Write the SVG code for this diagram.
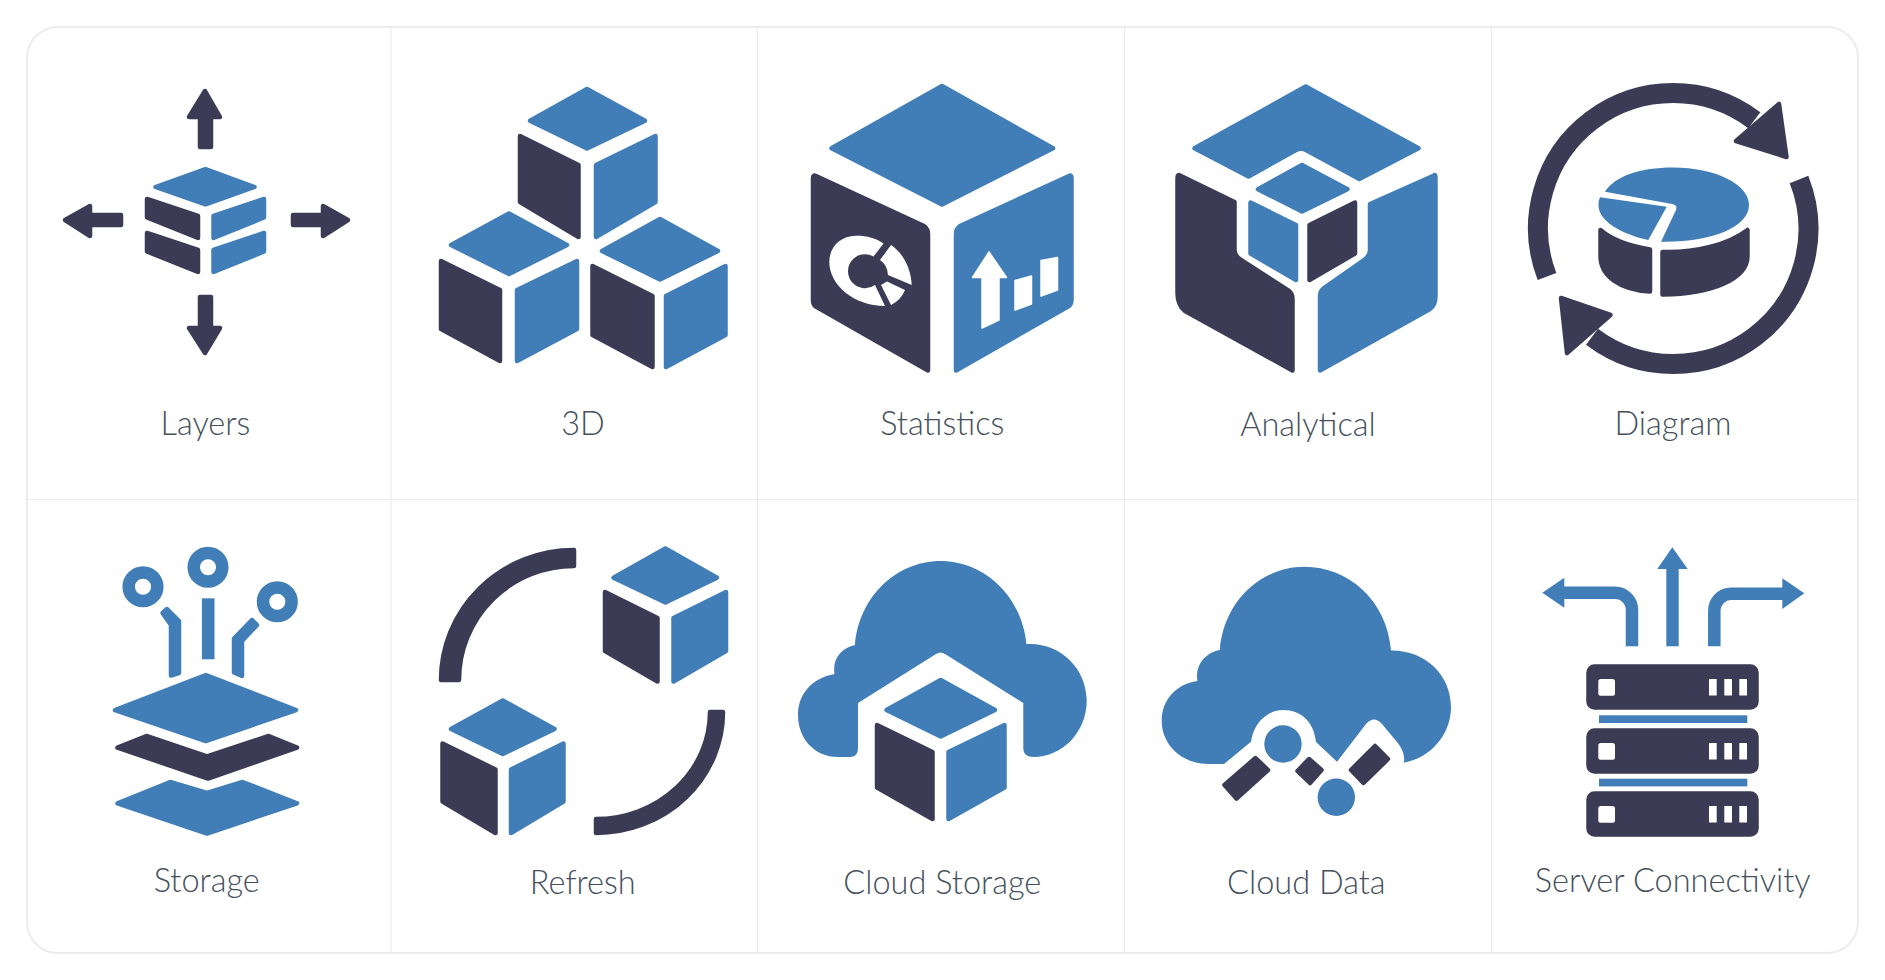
<svg xmlns="http://www.w3.org/2000/svg" width="1885" height="980" viewBox="0 0 1885 980">
<style>
.d{fill:#3b3b55;stroke:#3b3b55;stroke-width:4.5;stroke-linejoin:round}
.b{fill:#417eb8;stroke:#417eb8;stroke-width:4.5;stroke-linejoin:round}
.w{fill:#fff;stroke:#fff;stroke-width:1.5;stroke-linejoin:round}
.bf{fill:#417eb8}
.wf{fill:#fff}
.ring{fill:none;stroke:#417eb8;stroke-width:12.5}
.arc{fill:none;stroke:#3b3b55;stroke-width:20}
.ln{stroke:#ebebeb;stroke-width:1.2;fill:none}
.lb{fill:none;stroke:#417eb8;stroke-width:12.5}
text{font-family:"Lato","Liberation Sans",sans-serif;font-weight:300;font-size:32.5px;fill:#45505c;text-anchor:middle}
</style>
<rect width="1885" height="980" fill="#fff"/>
<g id="frame">
<rect x="27" y="27" width="1831" height="926" rx="31" fill="none" stroke="#ececec" stroke-width="2"/>
<path class="ln" d="M391,27V953M757.5,27V953M1124.5,27V953M1491.5,27V953M27,499.5H1858"/>
</g>

<g id="layers">
<polygon class="d" points="205,91 220,117 211,117 211,147 200,147 200,117 189,117" />
<polygon class="d" points="205,353 220,328 211,328 211,297 200,297 200,328 189,328"/>
<polygon class="d" points="65,220 90,206 90,215 121,215 121,225 90,225 90,236"/>
<polygon class="d" points="348,220 323,206 323,215 293,215 293,225 323,225 323,236"/>
<polygon class="b" points="205.5,169 254.5,187 205.5,204.5 155.5,187"/>
<polygon class="d" points="147,199 198,216 198,238 147,217.5"/>
<polygon class="d" points="147,233 198,250 198,272 147,251.5"/>
<polygon class="b" points="264,199 213.5,216 213.5,238 264,217.5"/>
<polygon class="b" points="264,233 213.5,250 213.5,272 264,251.5"/>
<text x="205.5" y="435">Layers</text>
</g>

<g id="cube3d">
<polygon class="b" points="587,89 645,120.7 587,148.5 530,120.7"/>
<polygon class="d" points="520,136 578.5,165 578.5,237 520,202"/>
<polygon class="b" points="655.5,136 596,165 596,237 655.5,202"/>
<polygon class="b" points="509,213.5 567,245 509,274 451,245"/>
<polygon class="d" points="441,261 500,290 500,361 441,329"/>
<polygon class="b" points="577,261 517,290 517,361 577,329"/>
<polygon class="b" points="660,219 718,251 660,279.5 602,251"/>
<polygon class="d" points="592.5,266 652.5,296 652.5,367 592.5,335"/>
<polygon class="b" points="725.5,266 666,296 666,367 725.5,335"/>
<text x="583" y="435">3D</text>
</g>

<g id="statistics">
<polygon class="b" points="942,86 1053,148.3 942,204.5 831.5,148.3"/>
<path class="d" d="M816,176 L924,226 Q928,229 928,234 V370.5 L815,306 Q813,304 813,300 V178 Q813,174.5 816,176Z"/>
<path class="b" d="M1069,176 L960,226 Q956,229 956,234 V370.5 L1069,306 Q1071.5,304 1071.5,300 V178 Q1071.5,174.5 1069,176Z"/>
<path class="wf" d="M883.5,243.5 C876,238 866,235.5 856,235.7 C840,236 829.3,247 829.3,262 C829.3,285 854,306 885,306 L875,285 A17,17 0 1 1 873.5,256.5Z"/>
<path class="wf" d="M891,245 C903,253 911,268 911.7,285 L888,275 A19,19 0 0 0 880,260Z"/>
<path class="wf" d="M881,285 L887,281.5 L905,290 Q901,300 891,305Z"/>
<polygon class="w" points="989,252 1006.5,277.5 999,277.5 999,320 982,328 982,277.5 972.5,277.5"/>
<polygon class="w" points="1015,280.5 1031.5,276 1031.5,304 1015,310"/>
<polygon class="w" points="1041,260.5 1057.5,257.5 1057.5,290 1041,296"/>
<text x="942.3" y="435">Statistics</text>
</g>

<g id="analytical">
<path class="b" d="M1305.7,86.5 L1418.5,148.3 L1359.3,179 L1306,150 Q1301.3,147.5 1296,150 L1248.6,176.5 L1194.5,148.3Z"/>
<polygon class="b" points="1302,165 1347.5,189.3 1302,211.5 1258,189.3"/>
<polygon class="b" points="1250.5,202.5 1296,225 1296,280 1250.5,253.5"/>
<polygon class="d" points="1355,202.5 1309.5,225 1309.5,280 1355,253.5"/>
<path class="d" d="M1180,175.5 L1234.5,202 V250 Q1234.5,256 1241,260 L1289,291 Q1292.5,294 1292.5,299 V370.5 L1185,311 Q1177.5,305 1177.5,293 V178 Q1177.5,174 1180,175.5Z"/>
<path class="b" d="M1434,175.5 L1370,204 V250 Q1370,256 1364,260 L1324,288 Q1320,291 1320,296 V370.5 L1430,309 Q1435.5,305 1435.5,296 V178 Q1435.5,174 1434,175.5Z"/>
<text x="1308" y="436">Analytical</text>
</g>

<g id="diagram">
<path class="arc" d="M1547,276.5 A135,135 0 0 1 1754.3,120.3"/>
<polygon class="d" points="1779,104 1786.5,157 1736,141" stroke-width="6"/>
<path class="arc" d="M1799,179.5 A135,135 0 0 1 1592,336.7"/>
<polygon class="d" points="1561,298 1610.5,315 1567,353" stroke-width="6"/>
<path class="bf" d="M1605,191.7 C1615,176 1640,167.5 1673,167.5 C1715,167.5 1749,184 1749,205 C1749,227 1712,242.5 1661,241.7 L1676,210 Q1678,205 1672,204Z"/>
<path class="bf" d="M1600,197.3 L1666.7,206.7 L1648.3,240 C1620,234 1598,220 1598.5,205 Q1598.5,200 1600,197.3Z"/>
<path class="d" d="M1600.5,230 C1612,240 1628,246 1650,249.5 V291.5 C1620,290 1600.5,276 1600.5,256Z"/>
<path class="d" d="M1662.5,252 C1695,253 1728,245 1747.5,230 V256 C1747.5,279 1712,294 1662.5,294.5Z"/>
<text x="1673" y="435">Diagram</text>
</g>

<g id="storage">
<circle class="ring" cx="143" cy="586.7" r="14.3"/>
<circle class="ring" cx="208" cy="567.3" r="14.3"/>
<circle class="ring" cx="277.3" cy="601.7" r="14.3"/>
<rect class="bf" x="201.9" y="598.3" width="12.6" height="61"/>
<path class="b" d="M162.5,613 L167,609 L179,621 V673 L171,675.5 V625Z" stroke-width="3.5"/>
<path class="b" d="M252,620 L257,625 L242,641 V676 L234,672.5 V638.5Z" stroke-width="3.5"/>
<polygon class="b" points="205.8,675 296,710 205.8,741 115,710"/>
<polygon class="d" points="117.5,747.7 146.4,736 207,756.5 268.7,736 297,747.7 208,778.5"/>
<polygon class="b" points="117.5,803.3 170.2,782 207,793 242.6,782 297,803.3 207,833.5"/>
<text x="206.7" y="892">Storage</text>
</g>

<g id="refresh">
<path class="d" d="M574,550 A133,130 0 0 0 441,680 L459,680 A115,114 0 0 1 574,566Z" stroke-width="4"/>
<path class="d" d="M723,712 A127,121 0 0 1 596,833 L596,819 A114,107 0 0 0 710,712Z" stroke-width="4"/>
<polygon class="b" points="665.4,548.5 717,577.7 665.4,602.5 613.5,577.7"/>
<polygon class="d" points="605,592 657.5,618 657.5,681.5 605,651"/>
<polygon class="b" points="726,592 673.5,618 673.5,681.5 726,651"/>
<polygon class="b" points="502.8,700.5 554.5,729 502.8,754 451,729"/>
<polygon class="d" points="442.5,743.5 495.5,769.5 495.5,833 442.5,801.5"/>
<polygon class="b" points="563.5,743.5 511,769.5 511,833 563.5,801.5"/>
<text x="582.8" y="894">Refresh</text>
</g>

<g id="cloud-storage">
<path class="bf" d="M855,645 C859,597 896,561 940.7,561 C985,561 1022,597 1026.4,644 C1060,642 1086.7,668 1086.7,701 C1086.7,732 1062,757 1034,757 C1027,757 1023.3,754 1023.3,748 L1023.3,703 L945,654 Q940.7,651 936,654 L858,703 L858,748 C858,754 855,757 850,757 L838,757 C814,757 798,738 798,715 C798,694 812,678 834.5,674 C832,658 842,648 855,645Z"/>
<polygon class="b" points="940.7,680 995,710 940.7,736.5 886.5,710"/>
<polygon class="d" points="877,725 932.5,752 932.5,819 877,787.5"/>
<polygon class="b" points="1004.5,725 948.5,752 948.5,819 1004.5,787.5"/>
<text x="942.3" y="894">Cloud Storage</text>
</g>

<g id="cloud-data">
<path class="bf" d="M1219.7,650 C1224,600 1262,566.7 1304.5,566.7 C1348,566.7 1387,600 1391,650.5 C1425,650 1451,675 1451,707 C1451,735 1430,758 1404,762.7 C1405,755 1402,748 1397,742 L1382,724 Q1374,715 1366,724 L1337,761.7 L1316,742 C1314,722 1301,710 1283.6,710 C1268,710 1254,722 1251,741.7 L1224,764 L1208.6,764 C1182,764 1161.7,745 1161.7,721 C1161.7,700 1176,684 1197.4,681 C1195,665 1205,653 1219.7,650Z"/>
<circle class="bf" cx="1283" cy="744" r="18.7"/>
<circle class="bf" cx="1336.3" cy="797.3" r="18.7"/>
<polygon class="d" points="1255.5,758 1268,770 1236.5,798.5 1224.5,785"/>
<polygon class="d" points="1309,759 1321.5,770 1310,783 1297.5,771"/>
<polygon class="d" points="1375,746 1388,759 1363.5,783 1351,770"/>
<text x="1306.3" y="894">Cloud Data</text>
</g>

<g id="server-connectivity">
<polygon class="bf" points="1672.3,547.3 1687.7,569 1678.7,569 1678.7,646.3 1666.3,646.3 1666.3,569 1657.3,569"/>
<polygon class="bf" points="1542.3,592.7 1564.3,577.7 1564.3,607.7"/>
<path class="lb" d="M1560,592.8 H1615 A17,17 0 0 1 1632,610 V646.3"/>
<polygon class="bf" points="1804.3,593.3 1782.3,578.3 1782.3,609"/>
<path class="lb" d="M1786,593.8 H1731 A17,17 0 0 0 1714.3,611 V646.3"/>
<rect class="d" x="1588.5" y="666.5" width="168" height="41" rx="6" stroke-width="1"/>
<rect class="d" x="1588.5" y="730.5" width="168" height="41" rx="6" stroke-width="1"/>
<rect class="d" x="1588.5" y="793.5" width="168" height="41" rx="6" stroke-width="1"/>
<g class="wf">
<rect x="1598.3" y="679" width="16.7" height="16.7" rx="2.5"/><rect x="1709" y="679" width="7.7" height="16.5"/><rect x="1724.3" y="679" width="7.7" height="16.5"/><rect x="1739.3" y="679" width="7.7" height="16.5"/>
<rect x="1598.3" y="743" width="16.7" height="16.7" rx="2.5"/><rect x="1709" y="743" width="7.7" height="16.5"/><rect x="1724.3" y="743" width="7.7" height="16.5"/><rect x="1739.3" y="743" width="7.7" height="16.5"/>
<rect x="1598.3" y="806" width="16.7" height="16.7" rx="2.5"/><rect x="1709" y="806" width="7.7" height="16.5"/><rect x="1724.3" y="806" width="7.7" height="16.5"/><rect x="1739.3" y="806" width="7.7" height="16.5"/>
</g>
<rect class="bf" x="1599" y="715.3" width="148.3" height="7.7"/>
<rect class="bf" x="1599" y="778.7" width="148.3" height="7.7"/>
<text x="1672.7" y="892">Server Connectivity</text>
</g>
</svg>
